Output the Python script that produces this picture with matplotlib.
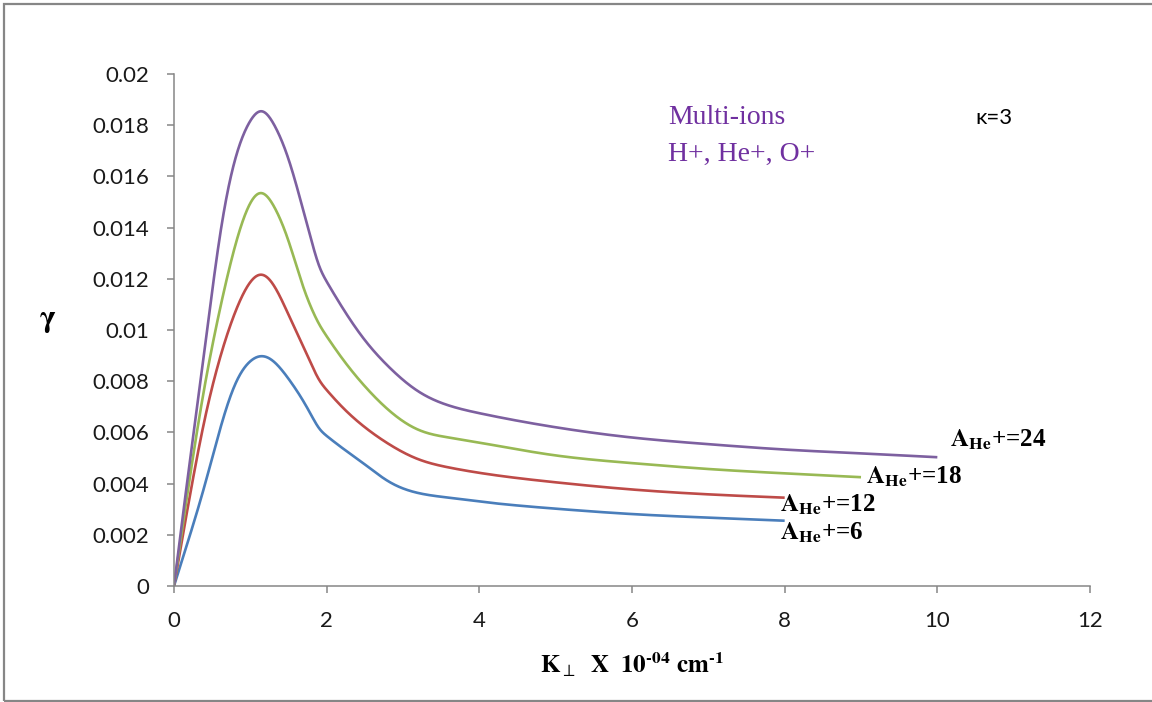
import numpy as np
import matplotlib
matplotlib.use("Agg")
import matplotlib.pyplot as plt
from matplotlib.patches import Rectangle

plt.rcParams["mathtext.fontset"] = "stix"

# growth rate gamma vs perpendicular wavenumber, for four He+ abundances
k = [0, 0.2, 0.4, 0.6, 0.8, 1.0, 1.15, 1.3, 1.5, 1.7, 1.9, 2.2, 2.5, 2.8,
     3.2, 3.6, 4.0, 5.0, 6.0, 7.0, 8.0, 9.0, 10.0]
g_he6 = [0, 0.0019, 0.0039, 0.0061, 0.0079, 0.0088, 0.0090, 0.0088, 0.0081,
         0.0072, 0.0061, 0.0054, 0.00475, 0.0041, 0.00363, 0.00345, 0.0033,
         0.00302, 0.00281, 0.00267, 0.00255]
g_he12 = [0, 0.0034, 0.0065, 0.0089, 0.0107, 0.0119, 0.0122, 0.0118, 0.0106,
          0.0093, 0.0080, 0.0070, 0.0062, 0.00557, 0.00495, 0.00463, 0.00442,
          0.00405, 0.00377, 0.00358, 0.00345]
g_he18 = [0, 0.0041, 0.0078, 0.0108, 0.0133, 0.0150, 0.0154, 0.0149, 0.0135,
          0.0116, 0.0102, 0.0089, 0.0078, 0.0069, 0.0061, 0.0058, 0.0056,
          0.0051, 0.0048, 0.00457, 0.0044, 0.00425]
g_he24 = [0, 0.0047, 0.0092, 0.0137, 0.0167, 0.0182, 0.0186, 0.0181, 0.0167,
          0.0146, 0.0124, 0.0109, 0.0096, 0.0086, 0.0076, 0.00705, 0.00675,
          0.0062, 0.0058, 0.00554, 0.00533, 0.00518, 0.00503]
knee = 10  # index of k = 1.9, where the slope breaks

series = [("6", g_he6, "#4A7EBB"), ("12", g_he12, "#BE4B48"),
          ("18", g_he18, "#98B954"), ("24", g_he24, "#7D60A0")]
# label anchor (x, y) for each curve's annotation
label_at = {"6": (7.94, 0.00207), "12": (7.94, 0.00316),
            "18": (9.07, 0.00426), "24": (10.17, 0.0057)}


def spline(x, y, n=30):
    # natural cubic spline through the points
    x = np.asarray(x, float)
    y = np.asarray(y, float)
    N = len(x)
    h = np.diff(x)
    d = np.diff(y) / h
    A = np.zeros((N, N))
    r = np.zeros(N)
    A[0, 0] = A[-1, -1] = 1
    for i in range(1, N - 1):
        A[i, i - 1], A[i, i], A[i, i + 1] = h[i - 1], 2 * (h[i - 1] + h[i]), h[i]
        r[i] = 6 * (d[i] - d[i - 1])
    M = np.linalg.solve(A, r)
    xs, ys = [], []
    for i in range(N - 1):
        t = np.linspace(x[i], x[i + 1], n, endpoint=False)
        a, b = x[i + 1] - t, t - x[i]
        s = (M[i] * a ** 3 + M[i + 1] * b ** 3) / (6 * h[i]) \
            + (y[i] / h[i] - M[i] * h[i] / 6) * a + (y[i + 1] / h[i] - M[i + 1] * h[i] / 6) * b
        xs.append(t)
        ys.append(s)
    xs.append(x[-1:])
    ys.append(y[-1:])
    return np.concatenate(xs), np.concatenate(ys)


def smooth(x, y, sigma=0.05):
    # two spline pieces joined at the knee, then a light gaussian to round the join
    x1, y1 = spline(x[:knee + 1], y[:knee + 1])
    x2, y2 = spline(x[knee:], y[knee:])
    sx = np.concatenate([x1, x2[1:]])
    sy = np.concatenate([y1, y2[1:]])
    xx = np.linspace(x[0], x[-1], 3000)
    yy = np.interp(xx, sx, sy)
    dx = xx[1] - xx[0]
    w = int(4 * sigma / dx)
    kern = np.exp(-0.5 * (np.arange(-w, w + 1) * dx / sigma) ** 2)
    kern /= kern.sum()
    padded = np.pad(yy, w, mode="reflect", reflect_type="odd")
    return xx, np.convolve(padded, kern, mode="valid")


fig = plt.figure(figsize=(11.52, 7.02), dpi=100)
ax = fig.add_axes([174 / 1152, 116 / 702, 916 / 1152, 512 / 702])

for name, g, col in series:
    sx, sy = smooth(k[:len(g)], g)
    ax.plot(sx, sy, color=col, lw=1.9, solid_capstyle="butt")
    lx, ly = label_at[name]
    ax.text(lx, ly, r"$\mathbf{A_{He}}$" + "+=" + name, fontsize=18,
            family="Liberation Serif", weight="bold", va="center", ha="left")

ax.set_xlim(0, 12)
ax.set_ylim(0, 0.02)
ax.set_xticks(np.arange(0, 13, 2))
ax.set_yticks(np.arange(0, 0.0201, 0.002))
ax.set_yticklabels([f"{v:.3f}".rstrip("0").rstrip(".") for v in ax.get_yticks()])
for s in ("top", "right"):
    ax.spines[s].set_visible(False)
for s in ("left", "bottom"):
    ax.spines[s].set_color("#868686")
    ax.spines[s].set_linewidth(1.1)
ax.tick_params(direction="out", length=5, width=1.1, color="#868686",
               labelsize=16, labelcolor="#1a1a1a", pad=13)
for lab in ax.get_xticklabels() + ax.get_yticklabels():
    lab.set_family("Lato")

ax.set_xlabel(r"$\mathbf{K}_{\perp}\ \ \mathbf{X}\ \ \mathbf{10}^{\mathbf{‐04}}\ \mathbf{cm}^{\mathbf{‐1}}$",
              fontsize=18, labelpad=14)
ax.set_ylabel(r"$\mathbf{\gamma}$", fontsize=22, rotation=0)
ax.yaxis.set_label_coords(-0.138, 0.49)

fig.text(668 / 1152, 1 - 118 / 702, "Multi-ions", fontsize=20, color="#7030A0",
         family="Liberation Serif", va="center")
fig.text(668 / 1152, 1 - 154 / 702, "H+, He+, O+", fontsize=20, color="#7030A0",
         family="Liberation Serif", va="center")
fig.text(975 / 1152, 1 - 118 / 702, "κ=3", fontsize=16, color="black",
         family=["Lato", "DejaVu Sans"], va="center")

# chart-area border
fig.patches.append(Rectangle((4 / 1152, 1.5 / 702), 1.2, 1 - 5.5 / 702,
                             transform=fig.transFigure, fill=False,
                             ec="#868686", lw=1.6))

fig.savefig("out.png", dpi=100)
